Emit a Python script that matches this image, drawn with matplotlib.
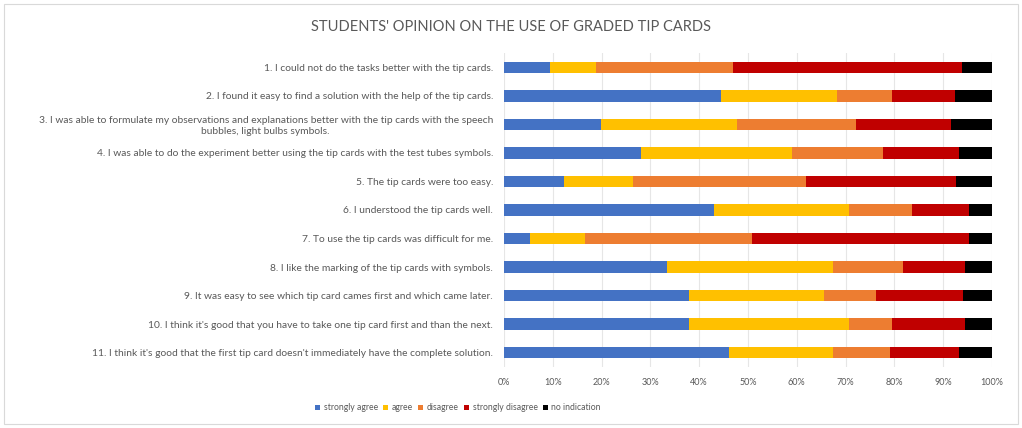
import matplotlib
matplotlib.use("Agg")
import matplotlib.pyplot as plt
from matplotlib.patches import Rectangle
import numpy as np

plt.rcParams['font.family'] = ['Lato', 'DejaVu Sans']

categories = [
    "1. I could not do the tasks better with the tip cards.",
    "2. I found it easy to find a solution with the help of the tip cards.",
    "3. I was able to formulate my observations and explanations better with the tip cards with the speech\nbubbles, light bulbs symbols.",
    "4. I was able to do the experiment better using the tip cards with the test tubes symbols.",
    "5. The tip cards were too easy.",
    "6. I understood the tip cards well.",
    "7. To use the tip cards was difficult for me.",
    "8. I like the marking of the tip cards with symbols.",
    "9. It was easy to see which tip card cames first and which came later.",
    "10. I think it's good that you have to take one tip card first and than the next.",
    "11. I think it's good that the first tip card doesn't immediately have the complete solution.",
]
series_names = ["strongly agree", "agree", "disagree", "strongly disagree", "no indication"]
strongly_agree = [9.4, 44.4, 19.9, 28.0, 12.2, 43.0, 5.3, 33.3, 37.9, 37.9, 46.2]
agree = [9.4, 23.9, 27.8, 31.1, 14.3, 27.7, 11.2, 34.1, 27.6, 32.8, 21.2]
disagree = [28.1, 11.3, 24.4, 18.5, 35.4, 13.0, 34.4, 14.4, 10.7, 8.9, 11.7]
strongly_disagree = [46.9, 12.9, 19.5, 15.6, 30.7, 11.5, 44.3, 12.7, 17.8, 14.9, 14.1]
no_indication = [6.2, 7.5, 8.4, 6.8, 7.4, 4.8, 4.8, 5.5, 6.0, 5.5, 6.8]
colors = ["#4472C4", "#FFC000", "#ED7D31", "#C00000", "#000000"]
xticks = [0, 10, 20, 30, 40, 50, 60, 70, 80, 90, 100]

W, H = 1022, 428
fig = plt.figure(figsize=(W / 100, H / 100), dpi=100)
ax = fig.add_axes([504 / W, 1 - 367 / H, (992 - 504) / W, (367 - 53) / H])

data = [strongly_agree, agree, disagree, strongly_disagree, no_indication]
y = np.arange(len(categories))
left = np.zeros(len(categories))
for name, vals, c in zip(series_names, data, colors):
    vals = np.array(vals, dtype=float)
    ax.barh(y, vals, left=left, height=0.4, color=c, label=name, zorder=3)
    left += vals

ax.set_xlim(0, 100)
ax.set_ylim(len(categories) - 0.5, -0.5)
ax.set_yticks(y)
ax.set_yticklabels(categories, fontsize=7.4, color="#595959", multialignment="center")
ax.set_xticks(xticks)
ax.set_xticklabels([f"{t}%" for t in xticks], fontsize=6.5, color="#595959")
ax.tick_params(axis="both", length=0)
ax.tick_params(axis="y", pad=8)
ax.tick_params(axis="x", pad=8)
ax.grid(axis="x", color="#E6E6E6", linewidth=0.8, zorder=0)
for s in ax.spines.values():
    s.set_visible(False)

fig.text(0.5, 1 - 27 / H, "STUDENTS' OPINION ON THE USE OF GRADED TIP CARDS",
         ha="center", va="center", fontsize=10.5, color="#595959")

handles, labels = ax.get_legend_handles_labels()
fig.legend(handles, labels, loc="center", bbox_to_anchor=(458 / W, 1 - 408 / H), ncol=5,
           frameon=False, fontsize=6.2, handlelength=0.6, handleheight=0.6,
           handletextpad=0.4, columnspacing=0.6, labelcolor="#595959")

fig.patches.append(Rectangle((4 / W, 4 / H), 1 - 8 / W, 1 - 8 / H, transform=fig.transFigure,
                             fill=False, edgecolor="#D9D9D9", linewidth=0.8))

fig.savefig("out.png", dpi=100, facecolor="white")
